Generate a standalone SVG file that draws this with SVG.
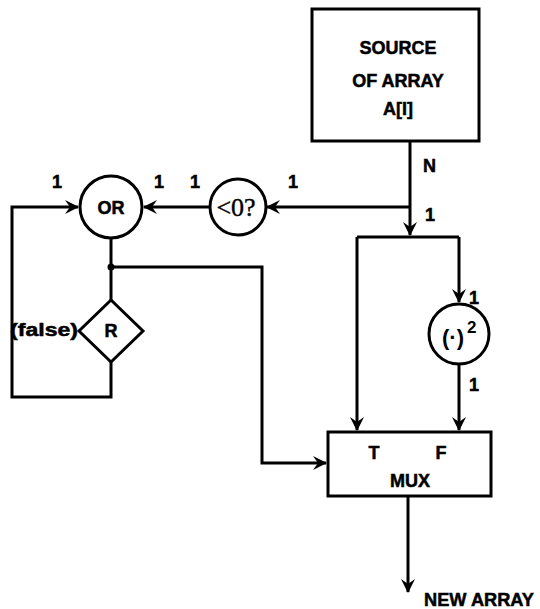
<svg xmlns="http://www.w3.org/2000/svg" width="540" height="609" viewBox="0 0 540 609">
<defs>
<marker id="arr" viewBox="0 0 14 14" refX="13" refY="7" markerWidth="14" markerHeight="14" markerUnits="userSpaceOnUse" orient="auto">
<path d="M0,0 L14,7 L0,14 L5,7 z" fill="#000"/>
</marker>
<style>
.ln{fill:none;stroke:#000;stroke-width:3}
.sh{fill:#fff;stroke:#000;stroke-width:3}
.t{font-family:"Liberation Sans",Arial,sans-serif;font-weight:bold;font-size:18px;fill:#000;stroke:#000;stroke-width:0.5}
.m{text-anchor:middle}
</style>
</defs>
<rect width="540" height="609" fill="#fff"/>
<g id="connectors">
<path class="ln" d="M410,141 V235" marker-end="url(#arr)"/>
<path class="ln" d="M410,207 H267" marker-end="url(#arr)"/>
<path class="ln" d="M209,207 H144" marker-end="url(#arr)"/>
<path class="ln" d="M111,238 V300"/>
<path class="ln" d="M111,267 H262 V463 H326" marker-end="url(#arr)"/>
<path class="ln" d="M111,362 V397 H12 V207 H78" marker-end="url(#arr)"/>
<path class="ln" d="M357,237 H459"/>
<path class="ln" d="M357,237 V430" marker-end="url(#arr)"/>
<path class="ln" d="M459,237 V302" marker-end="url(#arr)"/>
<path class="ln" d="M459,364 V430" marker-end="url(#arr)"/>
<path class="ln" d="M408,496 V592" marker-end="url(#arr)"/>
<circle cx="111" cy="267" r="3.5" fill="#000"/>
<text class="t" x="423" y="172">N</text>
<text class="t" x="425" y="221">1</text>
<text class="t" x="288" y="188">1</text>
<text class="t" x="190" y="188">1</text>
<text class="t" x="154" y="188">1</text>
<text class="t" x="52" y="188">1</text>
<text class="t" x="469" y="304">1</text>
<text class="t" x="469" y="391">1</text>
<text class="t" x="10" y="336" textLength="68" lengthAdjust="spacingAndGlyphs">(false)</text>
<text class="t" x="424" y="606" textLength="110" lengthAdjust="spacingAndGlyphs">NEW ARRAY</text>
</g>
<g id="source">
<rect class="sh" x="312" y="9" width="167" height="132"/>
<text class="t m" x="398" y="54">SOURCE</text>
<text class="t m" x="398" y="87">OF ARRAY</text>
<text class="t m" x="398" y="115">A[I]</text>
</g>
<g id="neg">
<circle class="sh" cx="238" cy="207" r="28"/>
<text x="236" y="216" text-anchor="middle" font-family="Liberation Serif,serif" font-size="26" fill="#000" stroke="#000" stroke-width="0.4">&lt;0?</text>
</g>
<g id="or">
<circle class="sh" cx="111" cy="207" r="31"/>
<text class="t m" x="111" y="214">OR</text>
</g>
<g id="r">
<path class="sh" d="M111,300 L143,331 L111,362 L79,331 z"/>
<text class="t m" x="111" y="337">R</text>
</g>
<g id="square">
<circle class="sh" cx="459" cy="334" r="30"/>
<text x="453" y="345" text-anchor="middle" font-family="Liberation Sans,sans-serif" font-weight="bold" font-size="22" fill="#000">(·)</text>
<text x="467" y="333" font-family="Liberation Sans,sans-serif" font-weight="bold" font-size="17" fill="#000">2</text>
</g>
<g id="mux">
<rect class="sh" x="328" y="432" width="163" height="64"/>
<text class="t m" x="374" y="459">T</text>
<text class="t m" x="441" y="459">F</text>
<text class="t m" x="410" y="487">MUX</text>
</g>
</svg>
